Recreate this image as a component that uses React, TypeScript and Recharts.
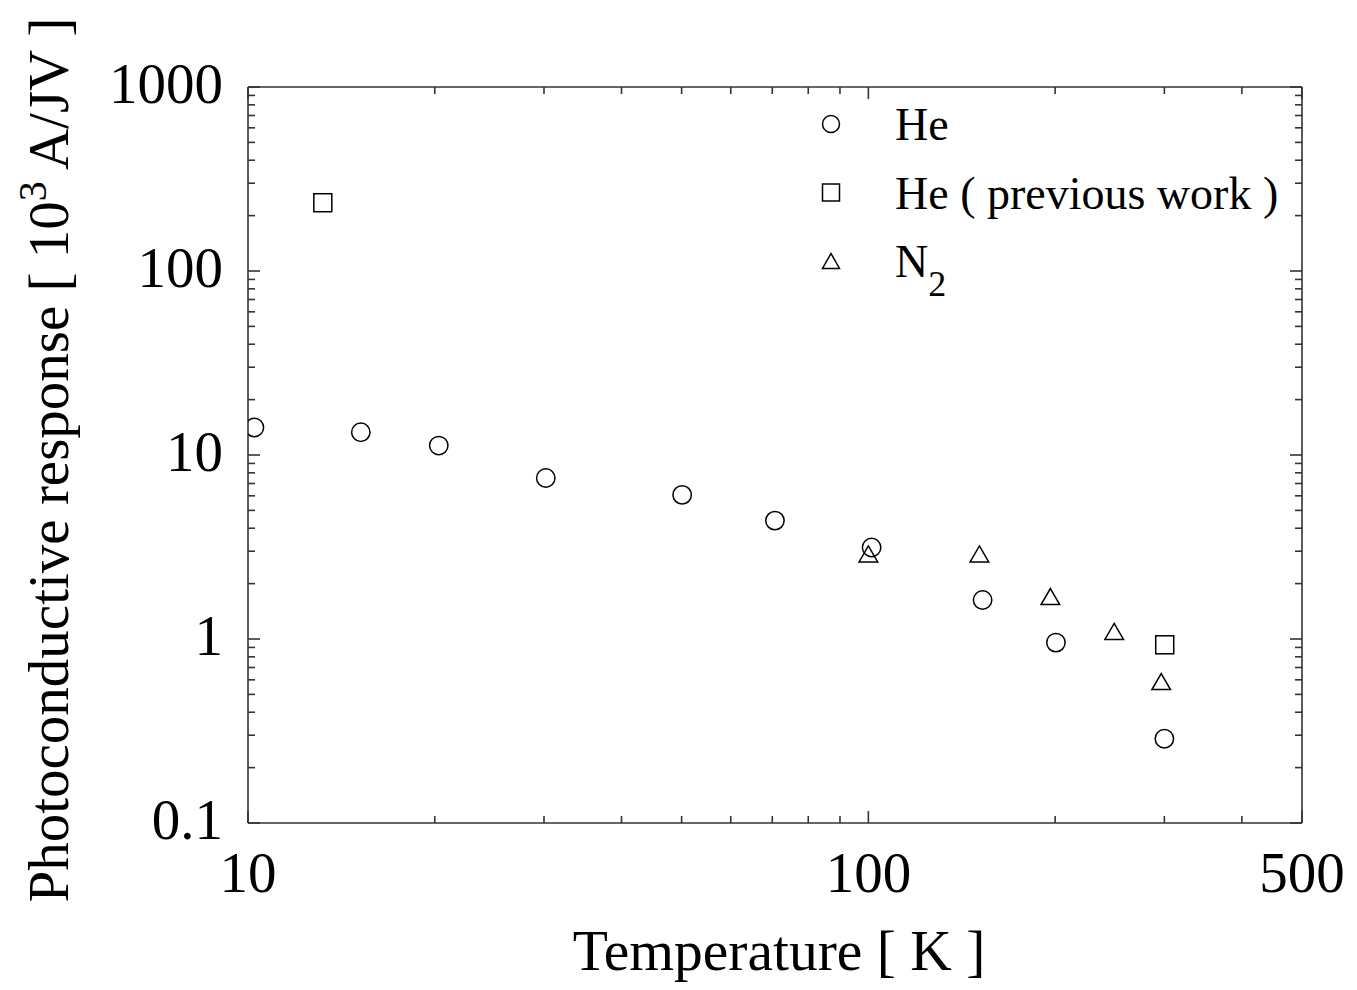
import React from "react";
import { ScatterChart, Scatter, XAxis, YAxis, Legend } from "recharts";

const heData = [
  { x: 10.24, y: 14.1 },
  { x: 15.2, y: 13.3 },
  { x: 20.3, y: 11.25 },
  { x: 30.2, y: 7.5 },
  { x: 50.1, y: 6.07 },
  { x: 70.7, y: 4.4 },
  { x: 101.2, y: 3.14 },
  { x: 152.8, y: 1.63 },
  { x: 200.6, y: 0.956 },
  { x: 300, y: 0.287 },
];
const hePrevData = [
  { x: 13.2, y: 235 },
  { x: 300.4, y: 0.93 },
];
const n2Data = [
  { x: 100, y: 2.9 },
  { x: 151, y: 2.9 },
  { x: 196.5, y: 1.7 },
  { x: 249, y: 1.1 },
  { x: 296.5, y: 0.587 },
];

const xTicks = [10, 20, 30, 40, 50, 60, 70, 80, 90, 100, 200, 300, 400, 500];
const xMajor = [10, 100, 500];
const xLabels = ["10", "100", "500"];
const yTicks = [
  0.1, 0.2, 0.3, 0.4, 0.5, 0.6, 0.7, 0.8, 0.9,
  1, 2, 3, 4, 5, 6, 7, 8, 9,
  10, 20, 30, 40, 50, 60, 70, 80, 90,
  100, 200, 300, 400, 500, 600, 700, 800, 900, 1000,
];
const yMajor = [0.1, 1, 10, 100, 1000];
const yLabels = ["0.1", "1", "10", "100", "1000"];

const FONT = "'Liberation Serif', 'Times New Roman', serif";
const AX = "#333";
const MAJ = 12;
const MIN = 7;

const TickBottom = (p: any) => {
  const v = p.payload.value;
  const major = xMajor.includes(v);
  const lab = xLabels.includes(String(v));
  return (
    <g>
      <line x1={p.x} x2={p.x} y1={p.y} y2={p.y - (major ? MAJ : MIN)} stroke={AX} strokeWidth={1.6} />
      {lab && (
        <text x={p.x} y={p.y + 69} textAnchor="middle" fontFamily={FONT} fontSize={57} fill="#000">
          {String(v)}
        </text>
      )}
    </g>
  );
};
const TickTop = (p: any) => {
  const v = p.payload.value;
  const major = xMajor.includes(v);
  return <line x1={p.x} x2={p.x} y1={p.y} y2={p.y + (major ? MAJ : MIN)} stroke={AX} strokeWidth={1.6} />;
};
const TickLeft = (p: any) => {
  const v = p.payload.value;
  const major = yMajor.includes(v);
  const lab = yLabels.includes(String(v));
  return (
    <g>
      <line x1={p.x} x2={p.x + (major ? MAJ : MIN)} y1={p.y} y2={p.y} stroke={AX} strokeWidth={1.6} />
      {lab && (
        <text x={p.x - 25} y={p.y + 16} textAnchor="end" fontFamily={FONT} fontSize={57} fill="#000">
          {String(v)}
        </text>
      )}
    </g>
  );
};
const TickRight = (p: any) => {
  const v = p.payload.value;
  const major = yMajor.includes(v);
  return <line x1={p.x} x2={p.x - (major ? MAJ : MIN)} y1={p.y} y2={p.y} stroke={AX} strokeWidth={1.6} />;
};

const CircleShape = (p: any) => (
  <circle cx={p.cx} cy={p.cy} r={9.2} fill="none" stroke="#000" strokeWidth={1.5} />
);
const SquareShape = (p: any) => (
  <rect x={p.cx - 9} y={p.cy - 9} width={18} height={18} fill="none" stroke="#000" strokeWidth={1.5} />
);
const TriShape = (p: any) => (
  <polygon
    points={`${p.cx},${p.cy - 8} ${p.cx + 9.3},${p.cy + 8} ${p.cx - 9.3},${p.cy + 8}`}
    fill="none"
    stroke="#000"
    strokeWidth={1.5}
  />
);

const XLabel = (p: any) => {
  const vb = p.viewBox;
  return (
    <text x={vb.x + vb.width / 2 + 4} y={vb.y + 147} textAnchor="middle" fontFamily={FONT} fontSize={57.5} fill="#000">
      Temperature [ K ]
    </text>
  );
};
const YLabel = (p: any) => {
  const vb = p.viewBox;
  const cx = vb.x + 60;
  const cy = vb.y + vb.height / 2 + 5;
  return (
    <text
      x={cx}
      y={cy}
      transform={`rotate(-90, ${cx}, ${cy})`}
      textAnchor="middle"
      fontFamily={FONT}
      fontSize={57}
      fill="#000"
    >
      Photoconductive response [ 10
      <tspan fontSize={40} dy={-22}>3</tspan>
      <tspan dy={22}> A/JV ]</tspan>
    </text>
  );
};

const LegendContent = () => {
  const rows = [
    { name: "He", kind: "c" },
    { name: "He ( previous work )", kind: "s" },
    { name: "N2", kind: "t" },
  ];
  return (
    <svg width={520} height={260} style={{ display: "block", overflow: "visible" }}>
      {rows.map((r, i) => {
        const cy = 36 + i * 68.5;
        const cx = 10;
        return (
          <g key={r.name}>
            {r.kind === "c" && <circle cx={cx} cy={cy} r={8.5} fill="none" stroke="#000" strokeWidth={1.5} />}
            {r.kind === "s" && (
              <rect x={cx - 8.5} y={cy - 8.5} width={17} height={17} fill="none" stroke="#000" strokeWidth={1.5} />
            )}
            {r.kind === "t" && (
              <polygon
                points={`${cx},${cy - 7.5} ${cx + 8.5},${cy + 7.5} ${cx - 8.5},${cy + 7.5}`}
                fill="none"
                stroke="#000"
                strokeWidth={1.5}
              />
            )}
            <text x={74} y={cy + 16} fontFamily={FONT} fontSize={46} fill="#000">
              {r.kind === "t" ? (
                <>
                  N<tspan fontSize={36} dy={19}>2</tspan>
                </>
              ) : (
                r.name
              )}
            </text>
          </g>
        );
      })}
    </svg>
  );
};

export default function App() {
  return (
    <div style={{ width: 1340, height: 974, background: "#fff" }}>
      <ScatterChart width={1340} height={974} margin={{ top: 78, right: 45, bottom: 0, left: 0 }}>
        <XAxis
          xAxisId="b"
          dataKey="x"
          type="number"
          scale="log"
          domain={[10, 500]}
          allowDataOverflow
          ticks={xTicks}
          interval={0}
          height={159}
          tickSize={0}
          tickMargin={0}
          tickLine={false}
          axisLine={{ stroke: AX, strokeWidth: 1.6 }}
          tick={(p: any) => <TickBottom {...p} />}
          label={(p: any) => <XLabel {...p} />}
        />
        <XAxis
          xAxisId="t"
          orientation="top"
          dataKey="x"
          type="number"
          scale="log"
          domain={[10, 500]}
          allowDataOverflow
          ticks={xTicks}
          interval={0}
          height={1}
          tickSize={0}
          tickMargin={0}
          tickLine={false}
          axisLine={{ stroke: AX, strokeWidth: 1.6 }}
          tick={(p: any) => <TickTop {...p} />}
        />
        <YAxis
          yAxisId="l"
          dataKey="y"
          type="number"
          scale="log"
          domain={[0.1, 1000]}
          allowDataOverflow
          ticks={yTicks}
          interval={0}
          width={240}
          tickSize={0}
          tickMargin={0}
          tickLine={false}
          axisLine={{ stroke: AX, strokeWidth: 1.6 }}
          tick={(p: any) => <TickLeft {...p} />}
          label={(p: any) => <YLabel {...p} />}
        />
        <YAxis
          yAxisId="r"
          orientation="right"
          dataKey="y"
          type="number"
          scale="log"
          domain={[0.1, 1000]}
          allowDataOverflow
          ticks={yTicks}
          interval={0}
          width={1}
          tickSize={0}
          tickMargin={0}
          tickLine={false}
          axisLine={{ stroke: AX, strokeWidth: 1.6 }}
          tick={(p: any) => <TickRight {...p} />}
        />
        <Legend
          layout="vertical"
          align="center"
          verticalAlign="middle"
          content={() => <LegendContent />}
          wrapperStyle={{ left: 813, top: 80, width: 520, height: 260 }}
        />
        <Scatter name="He" data={heData} xAxisId="b" yAxisId="l" shape={CircleShape} isAnimationActive={false} />
        <Scatter name="He ( previous work )" data={hePrevData} xAxisId="b" yAxisId="l" shape={SquareShape} isAnimationActive={false} />
        <Scatter name="N2" data={n2Data} xAxisId="b" yAxisId="l" shape={TriShape} isAnimationActive={false} />
      </ScatterChart>
    </div>
  );
}
